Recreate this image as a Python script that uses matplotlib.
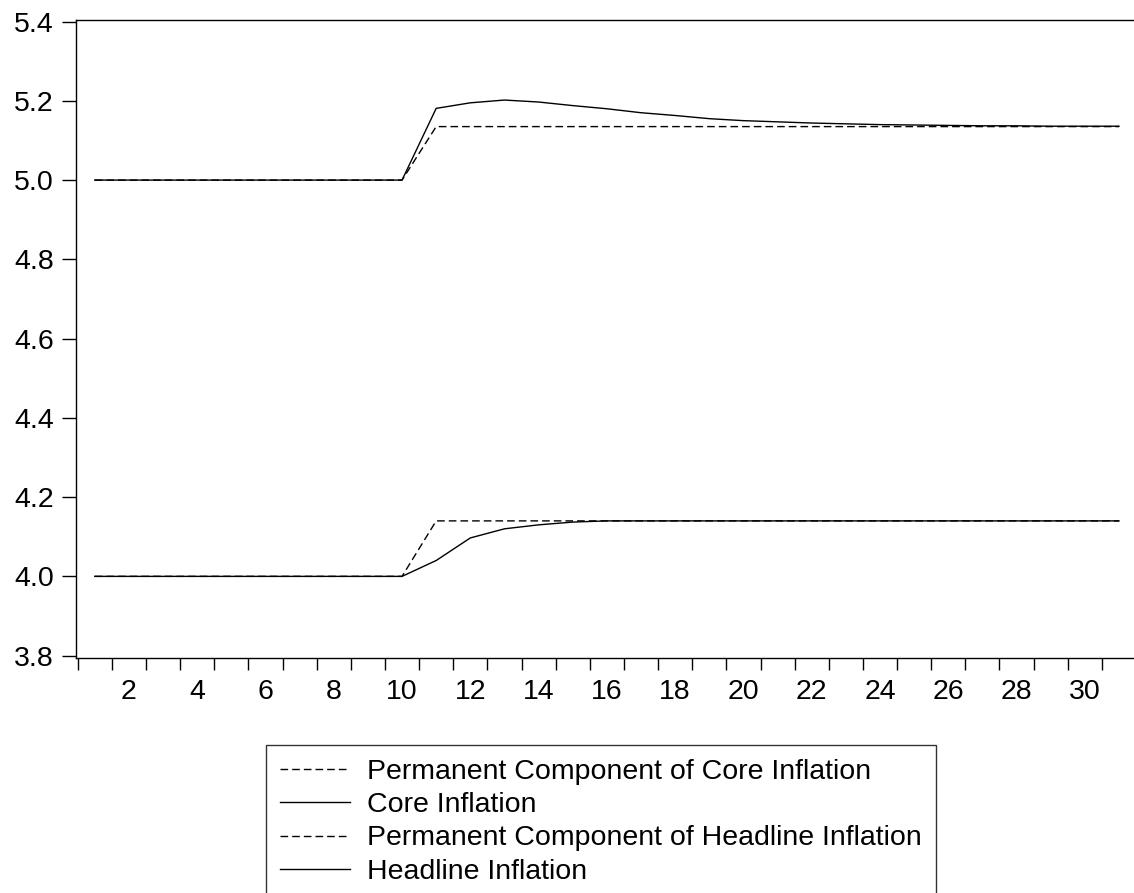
import matplotlib.pyplot as plt
import numpy as np

plt.rcParams['font.family'] = ['Liberation Sans', 'DejaVu Sans']

periods = list(range(1, 32))

perm_core = [5.0] * 10 + [5.135] * 21
core = [5.0] * 10 + [5.181, 5.195, 5.202, 5.197, 5.188, 5.180, 5.170, 5.163,
                     5.155, 5.150, 5.147, 5.144, 5.142, 5.140, 5.139, 5.138,
                     5.137, 5.137, 5.136, 5.136, 5.136]
perm_headline = [4.0] * 10 + [4.14] * 21
headline = [4.0] * 10 + [4.040, 4.097, 4.120, 4.130, 4.137] + [4.14] * 16

labels = ["Permanent Component of Core Inflation",
          "Core Inflation",
          "Permanent Component of Headline Inflation",
          "Headline Inflation"]

fig = plt.figure(figsize=(11.34, 8.93), dpi=100)
ax = fig.add_axes([76 / 1134, 1 - 658 / 893, 1 - 76 / 1134, 638 / 893])

ax.plot(periods, perm_core, color='black', lw=1.0, dashes=(5.5, 2.9), label=labels[0])
ax.plot(periods, core, color='black', lw=1.0, label=labels[1])
ax.plot(periods, perm_headline, color='black', lw=1.0, dashes=(5.5, 2.9), label=labels[2])
ax.plot(periods, headline, color='black', lw=1.0, label=labels[3])

ax.set_xlim(0.45, 31.44)
ax.set_ylim(3.794, 5.404)

# tick marks between periods, labels on even periods
ax.set_xticks(np.arange(0.5, 31, 1.0))
ax.set_xticklabels([])
ax.set_xticks(range(2, 31, 2), minor=True)
ax.set_xticklabels([str(i) for i in range(2, 31, 2)], minor=True)
ax.tick_params(axis='x', which='major', direction='out', length=8.5, width=1.0)
ax.tick_params(axis='x', which='minor', length=0, pad=15, labelsize=20.5)

ax.set_yticks([3.8, 4.0, 4.2, 4.4, 4.6, 4.8, 5.0, 5.2, 5.4])
ax.set_yticklabels(["3.8", "4.0", "4.2", "4.4", "4.6", "4.8", "5.0", "5.2", "5.4"])
ax.tick_params(axis='y', direction='out', length=10, width=1.0, pad=6, labelsize=20.5)

ax.spines['right'].set_visible(False)
for s in ['left', 'top', 'bottom']:
    ax.spines[s].set_linewidth(1.0)

leg = fig.legend(loc='upper left', bbox_to_anchor=(266 / 1134, 1 - 745 / 893),
                 borderaxespad=0, fontsize=20.5, frameon=True, fancybox=False,
                 edgecolor='black', handlelength=2.45, handletextpad=0.6,
                 borderpad=0.5, labelspacing=0.25)
leg.get_frame().set_linewidth(1.0)

fig.savefig('out.png', dpi=100)
